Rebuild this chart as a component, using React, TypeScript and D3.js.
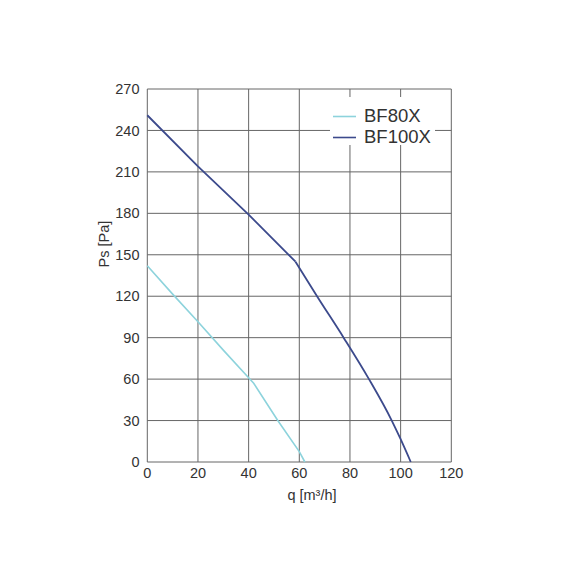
import React from "react";
import * as d3 from "d3";

const xTicks = [0, 20, 40, 60, 80, 100, 120];
const yTicks = [0, 30, 60, 90, 120, 150, 180, 210, 240, 270];
const seriesNames = ["BF80X", "BF100X"];
const bf80q = [0, 10, 20, 30, 40, 42, 51.5, 60, 62.2];
const bf80p = [142, 121.5, 101.5, 81, 61, 57, 30, 7.5, 0];
const bf100q = [0, 20, 40, 58.5, 67, 77.5, 87.5, 96.5, 100, 104];
const bf100p = [251, 214, 179, 145, 120, 90, 60, 30, 16.5, 0];
const colors = ["#8dd3dc", "#3c4a8c"];

export default function App() {
  const W = 576, H = 576;
  const x = d3.scaleLinear().domain([0, 120]).range([147.3, 451.3]);
  const y = d3.scaleLinear().domain([0, 270]).range([462, 89]);
  const line = d3.line<[number, number]>().x(d => x(d[0])).y(d => y(d[1]));
  const curve = d3.line<[number, number]>().x(d => x(d[0])).y(d => y(d[1])).curve(d3.curveMonotoneX);
  const s80 = bf80q.map((q, i) => [q, bf80p[i]] as [number, number]);
  const s100 = bf100q.map((q, i) => [q, bf100p[i]] as [number, number]);
  const kink = 3;
  const font = "'Liberation Sans', Arial, sans-serif";
  const grid = "#666";
  return (
    <svg width={W} height={H} style={{ position: "absolute", left: 0, top: 0, background: "#fff" }} fontFamily={font}>
      <rect x={0} y={0} width={W} height={H} fill="#fff" />
      {xTicks.map(t => (
        <line key={"gx" + t} x1={x(t)} x2={x(t)} y1={y(0)} y2={y(270)} stroke={grid} strokeWidth={1} />
      ))}
      {yTicks.map(t => (
        <line key={"gy" + t} x1={x(0)} x2={x(120)} y1={y(t)} y2={y(t)} stroke={grid} strokeWidth={1} />
      ))}
      <rect x={330} y={97} width={105} height={48} fill="#fff" />
      <path d={line(s80) || ""} fill="none" stroke={colors[0]} strokeWidth={1.6} />
      <path d={line(s100.slice(0, kink + 1)) || ""} fill="none" stroke={colors[1]} strokeWidth={1.8} strokeLinejoin="round" />
      <path d={curve(s100.slice(kink)) || ""} fill="none" stroke={colors[1]} strokeWidth={1.8} />
      {yTicks.map(t => (
        <text key={"ty" + t} x={139.5} y={y(t)} dy="0.35em" textAnchor="end" fontSize={14.5} fill="#333">{t}</text>
      ))}
      {xTicks.map(t => (
        <text key={"tx" + t} x={x(t)} y={478} textAnchor="middle" fontSize={14.5} fill="#333">{t}</text>
      ))}
      <text x={312} y={500} textAnchor="middle" fontSize={14.5} fill="#333">q [m³/h]</text>
      <text transform={`translate(108.5,244) rotate(-90)`} textAnchor="middle" fontSize={14.5} fill="#333">Ps [Pa]</text>
      {seriesNames.map((n, i) => (
        <g key={n}>
          <line x1={333} x2={356} y1={116.5 + i * 21} y2={116.5 + i * 21} stroke={colors[i]} strokeWidth={1.6} />
          <text x={364} y={115 + i * 21} dy="0.36em" fontSize={18.5} fill="#333">{n}</text>
        </g>
      ))}
    </svg>
  );
}
